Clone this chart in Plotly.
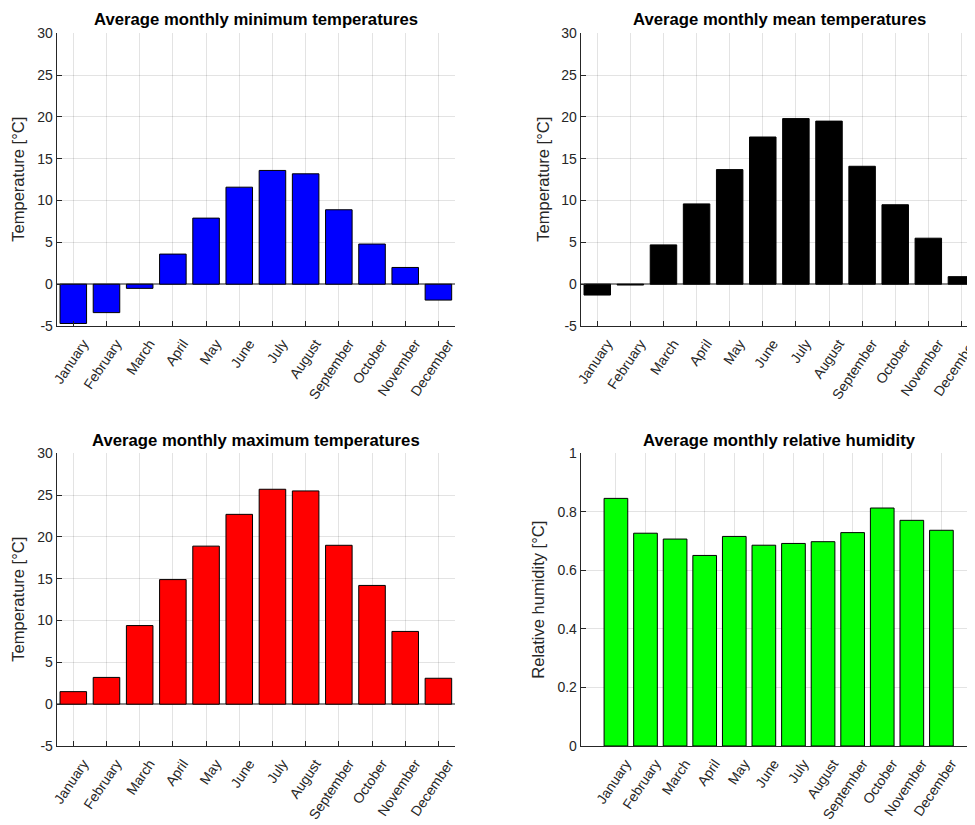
import plotly.graph_objects as go

months = ["January", "February", "March", "April", "May", "June", "July",
          "August", "September", "October", "November", "December"]

t_min = [-4.7, -3.4, -0.5, 3.6, 7.9, 11.6, 13.6, 13.2, 8.9, 4.8, 2.0, -1.9]
t_mean = [-1.3, -0.1, 4.7, 9.6, 13.7, 17.6, 19.8, 19.5, 14.1, 9.5, 5.5, 0.9]
t_max = [1.5, 3.2, 9.4, 14.9, 18.9, 22.7, 25.7, 25.5, 19.0, 14.2, 8.7, 3.1]
humidity = [0.846, 0.727, 0.707, 0.651, 0.716, 0.686, 0.692, 0.698, 0.729, 0.813, 0.771, 0.737]

temp_ticks = [-5, 0, 5, 10, 15, 20, 25, 30]
hum_ticks = [0, 0.2, 0.4, 0.6, 0.8, 1]

titles = ["Average monthly minimum temperatures", "Average monthly mean temperatures",
          "Average monthly maximum temperatures", "Average monthly relative humidity"]
ylabels = ["Temperature [°C]", "Temperature [°C]", "Temperature [°C]", "Relative humidity [°C]"]

# the page body has an 8px margin, so the figure is drawn 8px in from the window edge
OFF = 8
W, H = 975 - OFF, 825 - OFF
FONT = "Liberation Sans, Arial, sans-serif"
AX = "#262626"
GRID = "rgba(38,38,38,0.13)"


def px_x(v):
    return min(max((v - OFF) / W, 0.0), 1.0)


def px_y(v):
    return min(max(1 - (v - OFF) / H, 0.0), 1.0)


fig = go.Figure()

panels = [
    dict(vals=t_min, color="#0000ff", xd=(56.7, 455), yd=(33.3, 326), xr=[-0.5, 11.5], temp=True),
    dict(vals=t_mean, color="#000000", xd=(580.7, 975), yd=(33.3, 326), xr=[-0.5, 11.41], temp=True),
    dict(vals=t_max, color="#ff0000", xd=(56.7, 455), yd=(453.3, 746), xr=[-0.5, 11.5], temp=True),
    dict(vals=humidity, color="#00ff00", xd=(580.7, 975), yd=(453.3, 746), xr=[-1.19, 12.135], temp=False),
]

title_x = [256, 779, 256, 779]
title_y = [20, 20, 440, 440]
ylab_x = [18, 543, 18, 538]

for i, p in enumerate(panels):
    n = "" if i == 0 else str(i + 1)
    fig.add_trace(go.Bar(
        x=months, y=p["vals"], width=0.8,
        marker=dict(color=p["color"], line=dict(color="#000000", width=1)),
        xaxis="x" + n, yaxis="y" + n, showlegend=False, hoverinfo="x+y",
    ))
    xdom = [px_x(p["xd"][0]), px_x(p["xd"][1])]
    ydom = [px_y(p["yd"][1]), px_y(p["yd"][0])]
    if p["temp"]:
        yt = temp_ticks
        ytext = [str(v) for v in temp_ticks]
        yr = [temp_ticks[0], temp_ticks[-1]]
    else:
        yt = hum_ticks
        ytext = [("%g" % v) for v in hum_ticks]
        yr = [hum_ticks[0], hum_ticks[-1]]
    fig.layout["xaxis" + n] = dict(
        domain=xdom, anchor="y" + n, type="category", range=p["xr"], automargin=False,
        tickangle=-56, tickfont=dict(family=FONT, size=14, color=AX),
        ticklabelshift=10, ticklabelstandoff=3,
        showline=True, linecolor=AX, linewidth=1, mirror=False,
        ticks="inside" if p["temp"] else "", ticklen=5, tickcolor=AX,
        showgrid=True, gridcolor=GRID, gridwidth=1, zeroline=False,
    )
    fig.layout["yaxis" + n] = dict(
        domain=ydom, anchor="x" + n, range=yr, tickvals=yt, ticktext=ytext, automargin=False,
        tickfont=dict(family=FONT, size=14, color=AX),
        showline=True, linecolor=AX, linewidth=1,
        ticks="inside", ticklen=5, tickcolor=AX,
        showgrid=True, gridcolor=GRID, gridwidth=1,
        zeroline=p["temp"], zerolinecolor="#8a8a8a", zerolinewidth=1.5,
    )
    fig.add_annotation(
        text="<b>" + titles[i] + "</b>", x=px_x(title_x[i]), y=px_y(title_y[i]),
        xref="paper", yref="paper", showarrow=False, xanchor="center", yanchor="middle",
        font=dict(family=FONT, size=16.7, color="#000000"),
    )
    fig.add_annotation(
        text=ylabels[i], x=px_x(ylab_x[i]), y=px_y((p["yd"][0] + p["yd"][1]) / 2),
        xref="paper", yref="paper", showarrow=False, xanchor="center", yanchor="middle",
        textangle=-90, font=dict(family=FONT, size=16.5, color=AX),
    )

fig.update_layout(
    width=W, height=H, margin=dict(l=0, r=0, t=0, b=0, autoexpand=False),
    paper_bgcolor="white", plot_bgcolor="white", bargap=0.2,
    font=dict(family=FONT, color=AX),
)

fig.write_html("out.html")
